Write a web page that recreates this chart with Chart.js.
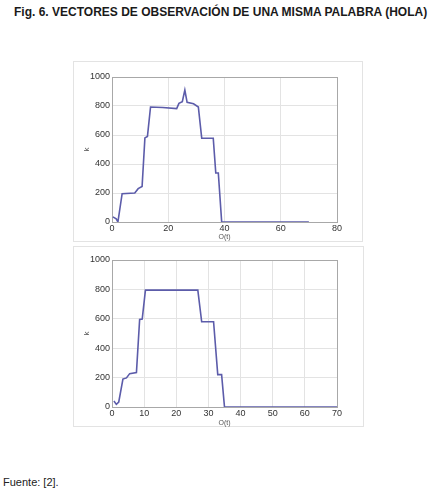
<!DOCTYPE html>
<html>
<head>
<meta charset="utf-8">
<script src="https://cdn.jsdelivr.net/npm/chart.js@4.4.1/dist/chart.umd.min.js"></script>
<style>
    html, body { margin: 0; padding: 0; background: #fff; }
    body { width: 431px; height: 492px; position: relative; overflow: hidden; font-family: "Liberation Sans", Arial, sans-serif; }
    .title { position: absolute; left: 14px; top: 5px; font-size: 12px; font-weight: bold; color: #1a1a1a; white-space: nowrap; }
    .source { position: absolute; left: 3px; top: 476px; font-size: 11px; color: #222; }
    .frame { position: absolute; border: 1px solid #e3e3e3; box-sizing: border-box; }
    canvas { position: absolute; }
</style>
</head>
<body>
<div class="title">Fig. 6. VECTORES DE OBSERVACIÓN DE UNA MISMA PALABRA (HOLA)</div>

<div class="frame" style="left:73px; top:61px; width:290px; height:181px;"></div>
<canvas id="chartTop" width="290" height="180" style="left:73px; top:61px;"></canvas>

<div class="frame" style="left:73px; top:246px; width:291px; height:181px;"></div>
<canvas id="chartBottom" width="291" height="181" style="left:73px; top:246px;"></canvas>

<div class="source">Fuente: [2].</div>

<script>
// First observation vector (x = O(t), y = k)
const topX = [0.3, 1.5, 2.1, 3.6, 8.1, 9.3, 10.7, 11.7, 12.6, 13.7, 18, 23, 23.8, 25, 25.9, 26.7, 29, 30.7, 31.9, 36, 36.9, 37.8, 39, 70];
const topY = [35, 22, 0, 195, 200, 230, 245, 580, 590, 793, 790, 782, 818, 830, 910, 825, 815, 793, 578, 578, 338, 338, 0, 0];

// Second observation vector
const bottomX = [0.6, 1.35, 2.1, 3.4, 4.5, 5.5, 7.6, 8.6, 9.4, 10.4, 26.7, 27.9, 31.6, 32.9, 34.1, 35, 70];
const bottomY = [41, 18, 34, 190, 198, 227, 234, 595, 598, 795, 795, 580, 580, 220, 220, 0, 0];

// Axis ranges / tick steps
const topXTicks = { max: 80, step: 20 };
const bottomXTicks = { max: 70, step: 10 };
const yTicks = { max: 1000, step: 200 };

const lineColor = '#5c5caa';
const gridColor = '#e3e3e3';
const edgeColor = '#a8a8a8';
const tickFont = { family: 'Liberation Sans', size: 9 };

function toPoints(xs, ys) {
    return xs.map((x, i) => ({ x: x, y: ys[i] }));
}

function buildChart(canvas, xs, ys, xTicks, pad) {
    return new Chart(canvas, {
        type: 'line',
        data: {
            datasets: [{
                data: toPoints(xs, ys),
                borderColor: lineColor,
                borderWidth: 1.6,
                pointRadius: 0,
                tension: 0,
                fill: false
            }]
        },
        options: {
            responsive: false,
            animation: false,
            layout: { padding: { left: 9, top: pad.top, right: pad.right, bottom: 0 } },
            plugins: { legend: { display: false }, tooltip: { enabled: false } },
            scales: {
                x: {
                    type: 'linear',
                    min: 0,
                    max: xTicks.max,
                    afterFit: scale => { scale.height = pad.bottom; },
                    ticks: { stepSize: xTicks.step, font: tickFont, color: '#333', padding: 1, maxRotation: 0, callback: v => String(v) },
                    grid: {
                        drawTicks: false,
                        color: ctx => (ctx.tick && ctx.tick.value === xTicks.max ? edgeColor : gridColor)
                    },
                    border: { color: edgeColor },
                    title: { display: true, text: 'O(t)', font: { family: 'Liberation Sans', size: 7 }, color: '#555', padding: 0 }
                },
                y: {
                    min: 0,
                    max: yTicks.max,
                    afterFit: scale => { scale.width = 30; },
                    ticks: { stepSize: yTicks.step, font: tickFont, color: '#333', padding: 2, callback: v => String(v) },
                    grid: {
                        drawTicks: false,
                        color: ctx => (ctx.tick && ctx.tick.value === yTicks.max ? edgeColor : gridColor)
                    },
                    border: { color: edgeColor },
                    title: { display: true, text: 'k', font: { family: 'Liberation Sans', size: 8 }, color: '#555', padding: 0 }
                }
            }
        }
    });
}

document.addEventListener('DOMContentLoaded', () => {
    buildChart(document.getElementById('chartTop'), topX, topY, topXTicks, { top: 16, right: 26, bottom: 19 });
    buildChart(document.getElementById('chartBottom'), bottomX, bottomY, bottomXTicks, { top: 14, right: 27, bottom: 20 });
});
</script>
</body>
</html>
